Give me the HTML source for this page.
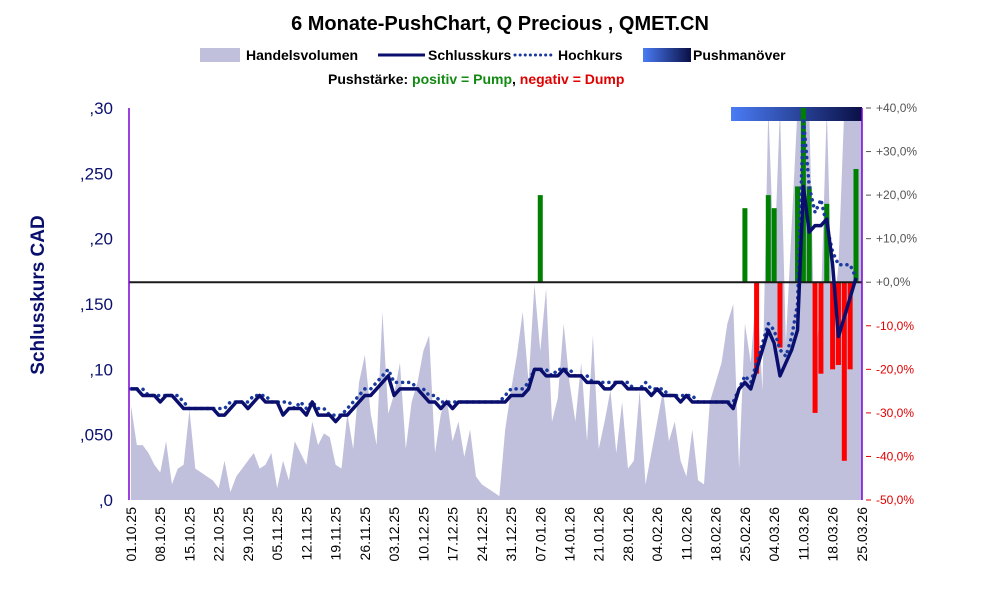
<!DOCTYPE html>
<html><head><meta charset="utf-8"><style>
body{margin:0;background:#fff;font-family:"Liberation Sans",sans-serif}
svg text{font-family:"Liberation Sans",sans-serif}
</style></head><body>
<svg id="c" width="991" height="587">
<defs><linearGradient id="pg" x1="0" x2="1"><stop offset="0" stop-color="#4a7cf5"/><stop offset="1" stop-color="#0a0f45"/></linearGradient></defs>
<text x="500" y="30" text-anchor="middle" font-size="20" font-weight="bold">6 Monate-PushChart, Q Precious , QMET.CN</text>
<g font-size="14" font-weight="bold">
<rect x="200" y="48" width="40" height="14" fill="#c0c0dc"/>
<text x="246" y="60">Handelsvolumen</text>
<line x1="378" y1="55" x2="425" y2="55" stroke="#0a0f6e" stroke-width="3"/>
<text x="428" y="60">Schlusskurs</text>
<line x1="515" y1="55" x2="555" y2="55" stroke="#1a3aa0" stroke-width="3" stroke-dasharray="0.1,5" stroke-linecap="round"/>
<text x="558" y="60">Hochkurs</text>
<rect x="643" y="48" width="48" height="14" fill="url(#pg)"/>
<text x="693" y="60">Pushmanöver</text>
</g>
<text x="328" y="84" font-size="14" font-weight="bold">Pushstärke:  <tspan fill="#128a12">positiv = Pump</tspan>,  <tspan fill="#e00000">negativ = Dump</tspan></text>
<text transform="translate(44,295) rotate(-90)" text-anchor="middle" font-size="19" font-weight="bold" fill="#0a0f6e">Schlusskurs CAD</text>
<g id="plot"></g>
</svg>
<script>
const dates=["01.10.25","08.10.25","15.10.25","22.10.25","29.10.25","05.11.25","12.11.25","19.11.25","26.11.25","03.12.25","10.12.25","17.12.25","24.12.25","31.12.25","07.01.26","14.01.26","21.01.26","28.01.26","04.02.26","11.02.26","18.02.26","25.02.26","04.03.26","11.03.26","18.03.26","25.03.26"];
const close=[0.085,0.085,0.08,0.08,0.08, 0.075,0.08,0.08,0.075,0.07, 0.07,0.07,0.07,0.07,0.07, 0.065,0.065,0.07,0.075,0.075, 0.07,0.075,0.08,0.075,0.075, 0.075,0.065,0.07,0.07,0.07, 0.065,0.075,0.065,0.065,0.065, 0.06,0.065,0.065,0.07,0.075, 0.08,0.08,0.085,0.09,0.095, 0.08,0.085,0.085,0.085,0.085, 0.08,0.075,0.075,0.07,0.075, 0.07,0.075,0.075,0.075,0.075, 0.075,0.075,0.075,0.075,0.075, 0.08,0.08,0.08,0.085,0.10, 0.10,0.095,0.095,0.095,0.10, 0.095,0.095,0.095,0.09,0.09, 0.09,0.085,0.085,0.09,0.09, 0.085,0.085,0.085,0.085,0.08, 0.085,0.08,0.08,0.08,0.075, 0.08,0.075,0.075,0.075,0.075, 0.075,0.075,0.075,0.07,0.085, 0.09,0.085,0.10,0.115,0.13, 0.12,0.095,0.105,0.115,0.13, 0.24,0.205,0.21,0.21,0.215, 0.18,0.125,0.14,0.155,0.17];
const high=[0.085,0.085,0.085,0.08,0.08, 0.08,0.08,0.08,0.08,0.075, 0.07,0.07,0.07,0.07,0.07, 0.07,0.07,0.075,0.075,0.075, 0.075,0.08,0.08,0.08,0.075, 0.075,0.075,0.075,0.07,0.075, 0.07,0.075,0.07,0.07,0.065, 0.065,0.065,0.07,0.075,0.08, 0.085,0.085,0.09,0.095,0.10, 0.09,0.09,0.09,0.09,0.085, 0.085,0.08,0.08,0.075,0.075, 0.075,0.075,0.075,0.075,0.075, 0.075,0.075,0.075,0.075,0.08, 0.085,0.085,0.085,0.09,0.10, 0.10,0.10,0.095,0.10,0.10, 0.10,0.095,0.095,0.095,0.09, 0.09,0.09,0.09,0.09,0.09, 0.09,0.085,0.085,0.09,0.085, 0.085,0.085,0.08,0.08,0.08, 0.08,0.08,0.075,0.075,0.075, 0.075,0.075,0.075,0.075,0.085, 0.095,0.09,0.105,0.12,0.135, 0.13,0.115,0.11,0.125,0.15, 0.31,0.24,0.22,0.23,0.21, 0.19,0.18,0.18,0.18,0.17];
const volume=[24,14,14,12,9, 7,15,4,8,9, 23,8,7,6,5, 3,10,2,6,8, 10,12,8,9,12, 3,10,5,15,12, 9,20,14,17,16, 9,8,22,13,30, 37,22,14,48,22, 27,35,13,25,30, 38,42,12,22,26, 15,20,11,18,6, 4,3,2,1,18, 28,37,48,30,55, 38,54,20,26,45, 30,20,35,15,42, 13,20,28,12,25, 8,10,28,4,12, 20,28,15,20,10, 6,18,5,4,25, 30,35,45,50,8, 45,35,55,28,100, 60,100,40,70,100, 100,100,35,50,100, 45,60,100,100,100,100];
const pumpIdx=[70,105,107,109,110,111,114,115,116,117,118,119,120,121,122,123,124];
const pumpPct=[20,17,-21,20,17,-15,22,40,22,-30,-21,18,-20,-19,-41,-20,26];
const leftTicks=[",0",",050",",10",",150",",20",",250",",30"];
const rightTicks=["-50,0%","-40,0%","-30,0%","-20,0%","-10,0%","+0,0%","+10,0%","+20,0%","+30,0%","+40,0%"];

const NS="http://www.w3.org/2000/svg";
const X0=131,X1=856,Y0=500,Y1=108,PL=129,PR=862;
const xs=i=>X0+i*(X1-X0)/(close.length-1);
const yv=v=>Y0-v/0.30*(Y0-Y1);
const yp=p=>Y0-(p+50)/90*(Y0-Y1);
const yvol=v=>Y0-Math.min(v,100)/100*(Y0-Y1);
const g=document.getElementById('plot');
function mk(t,a){const e=document.createElementNS(NS,t);for(const k in a)e.setAttribute(k,a[k]);g.appendChild(e);return e;}
let d=`M${xs(0)},${Y0}`;volume.forEach((v,i)=>d+=`L${xs(i)},${yvol(v)}`);d+=`L${xs(volume.length-1)},${Y0}Z`;
const va=mk('path',{d:d,fill:'#c0c0dc'});


const pb=mk('rect',{x:731,y:107,width:131,height:14,fill:'url(#pg)'});


pumpIdx.forEach((idx,k)=>{const p=pumpPct[k];const y=Math.min(yp(p),yp(0));
const r=mk('rect',{x:xs(idx)-2.5,y:Math.max(y,Y1),width:5,height:Math.abs(yp(p)-yp(0))-(y<Y1?Y1-y:0),fill:p>0?'#008000':'#ff0000'});

});
const zl=mk('line',{x1:PL,x2:PR,y1:yp(0),y2:yp(0),stroke:'#1a1a1a','stroke-width':2});


const hl=mk('polyline',{points:high.map((v,i)=>xs(i)+','+Math.max(yv(v),Y1+10)).join(' '),fill:'none',stroke:'#1a3aa0','stroke-width':3.5,'stroke-dasharray':'0.1,6','stroke-linecap':'round'});


const cl=mk('polyline',{points:close.map((v,i)=>xs(i)+','+yv(v)).join(' '),fill:'none',stroke:'#0a0f6e','stroke-width':3.5,'stroke-linejoin':'round'});


const la=mk('line',{x1:PL,x2:PL,y1:Y1,y2:Y0,stroke:'#7b00d6','stroke-width':1.5});


const ra=mk('line',{x1:PR,x2:PR,y1:Y1,y2:Y0,stroke:'#7b00d6','stroke-width':1.5});


leftTicks.forEach((t,i)=>{const e=mk('text',{x:113,y:yv(i*0.05)+6,'text-anchor':'end','font-size':17,fill:'#0a0f6e'});e.textContent=t;

});
rightTicks.forEach((t,i)=>{const p=-50+i*10;const col=p<0?'#e00000':'#555';
const tk=mk('line',{x1:866,x2:871,y1:yp(p),y2:yp(p),stroke:col});


const e=mk('text',{x:876,y:yp(p)+4,'font-size':12,fill:col});e.textContent=t;

});
dates.forEach((t,i)=>{const x=xs(i*5)+5;const e=mk('text',{transform:`translate(${x},507) rotate(-90)`,'text-anchor':'end','font-size':14});e.textContent=t;

});
</script>
</body></html>
